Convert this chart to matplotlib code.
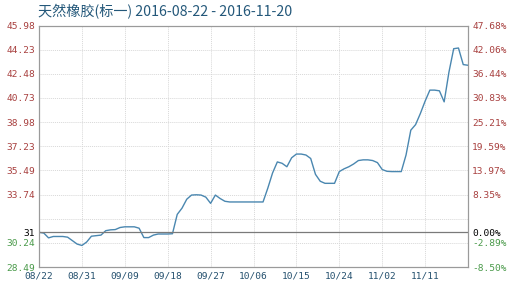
import numpy as np
import pandas as pd
import matplotlib
matplotlib.use("Agg")
import matplotlib.pyplot as plt

plt.rcParams['font.family'] = ['Noto Sans CJK SC', 'DejaVu Sans']

# daily price, 2016-08-22 .. 2016-11-20
dates = pd.date_range("2016-08-22", "2016-11-20", freq="D")
prices = [
    31.00, 30.95, 30.60, 30.70, 30.70, 30.70, 30.65, 30.40, 30.15, 30.05,
    30.30, 30.72, 30.76, 30.80, 31.12, 31.18, 31.20, 31.35, 31.40, 31.40,
    31.40, 31.30, 30.62, 30.62, 30.80, 30.88, 30.88, 30.88, 30.90, 32.30,
    32.75, 33.40, 33.70, 33.72, 33.70, 33.55, 33.10, 33.70, 33.45, 33.25,
    33.20, 33.20, 33.20, 33.20, 33.20, 33.20, 33.20, 33.20, 34.20, 35.30,
    36.10, 36.00, 35.75, 36.40, 36.67, 36.67, 36.60, 36.35, 35.20, 34.70,
    34.55, 34.55, 34.55, 35.40, 35.60, 35.75, 35.95, 36.20, 36.25, 36.25,
    36.20, 36.05, 35.55, 35.42, 35.40, 35.40, 35.40, 36.60, 38.40, 38.80,
    39.60, 40.50, 41.30, 41.30, 41.25, 40.45, 42.60, 44.30, 44.35, 43.15,
    43.10,
]

base = 31
left_ticks = [28.49, 30.24, 31, 31.99, 33.74, 35.49, 37.23, 38.98, 40.73, 42.48, 44.23, 45.98]
left_labels = ["28.49", "30.24", "31", "", "33.74", "35.49", "37.23", "38.98",
               "40.73", "42.48", "44.23", "45.98"]
right_labels = ["-8.50%", "-2.89%", "0.00%", "", "8.35%", "13.97%", "19.59%",
                "25.21%", "30.83%", "36.44%", "42.06%", "47.68%"]
xtick_labels = ["08/22", "08/31", "09/09", "09/18", "09/27", "10/06", "10/15",
                "10/24", "11/02", "11/11"]

red = "#a8403f"
green = "#4a9a4a"

fig = plt.figure(figsize=(5.25, 2.95), dpi=100)
ax = fig.add_axes([39 / 525, 28 / 295, 429 / 525, 241.5 / 295])

x = np.arange(len(prices))
ax.plot(x, prices, color="#4a87b0", lw=1.0)
ax.axhline(base, color="#7a7a7a", lw=0.9)

ax.set_xlim(0, len(prices) - 1)
ax.set_ylim(left_ticks[0], left_ticks[-1])

xt = [list(dates.strftime("%m/%d")).index(s) for s in xtick_labels]
ax.set_xticks(xt)
ax.set_xticklabels(xtick_labels, color="#24506e", family="DejaVu Sans Mono", fontsize=6.8)
ax.set_yticks(left_ticks)
ax.set_yticklabels(left_labels, family="DejaVu Sans Mono", fontsize=6.8)
for lab, v in zip(ax.get_yticklabels(), left_ticks):
    lab.set_color("black" if v == base else (red if v > base else green))

ax.grid(True, color="#d8d8d8", lw=0.7, ls=(0, (1, 1)))
ax.tick_params(length=0, pad=3)
for s in ax.spines.values():
    s.set_color("#9a9a9a")
    s.set_linewidth(0.8)

ax2 = ax.twinx()
ax2.set_ylim(ax.get_ylim())
ax2.set_yticks(left_ticks)
ax2.set_yticklabels(right_labels, family="DejaVu Sans Mono", fontsize=6.8)
for lab, v in zip(ax2.get_yticklabels(), left_ticks):
    lab.set_color("black" if v == base else (red if v > base else green))
ax2.tick_params(length=0, pad=3)
for s in ax2.spines.values():
    s.set_color("#9a9a9a")
    s.set_linewidth(0.8)

fig.text(38 / 525, 1 - 12 / 295, "天然橡胶(标一) 2016-08-22 - 2016-11-20",
         color="#24587a", fontsize=10.2, va="center", ha="left")

fig.savefig("out.png", dpi=100)
